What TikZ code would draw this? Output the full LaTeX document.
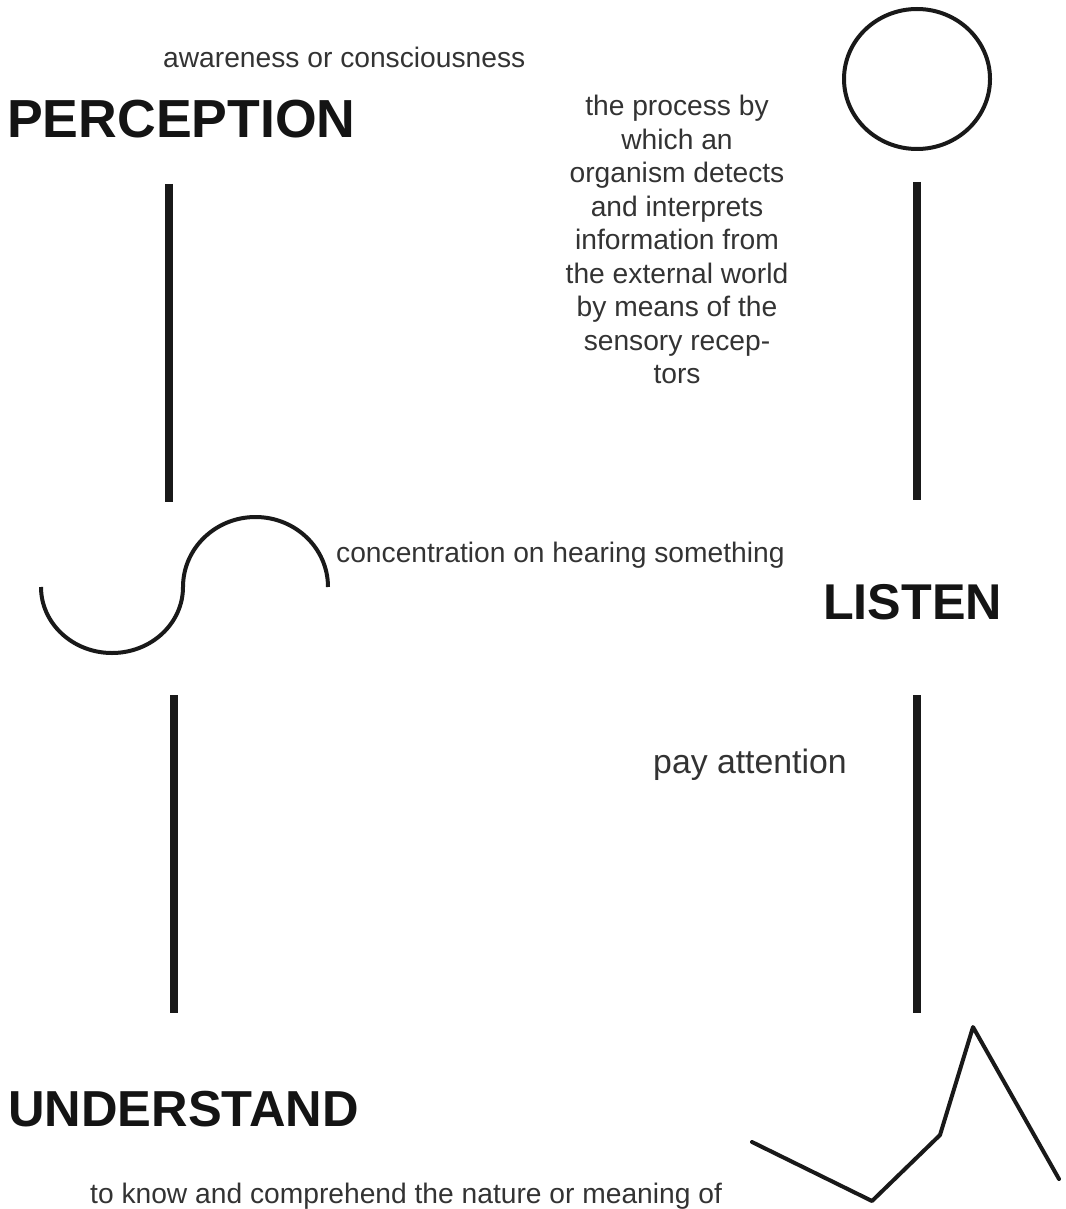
\documentclass[tikz,border=0pt]{standalone}
\usepackage{fontspec}
\setmainfont{Liberation Sans}
\begin{document}
\begin{tikzpicture}[x=1pt,y=-1pt,
  smalltext/.style={inner sep=0pt, text=black!80, font=\fontsize{28.2}{33.5}\selectfont},
  headtext/.style={inner sep=0pt, text=black!92, font=\bfseries\fontsize{#1}{#1}\selectfont},
  thickbar/.style={line width=8pt, black!90},
  thinline/.style={line width=4pt, black!90, line cap=round, line join=round}]
\useasboundingbox (0,0) rectangle (1065,1209);
% texts
\node[smalltext, anchor=base west] (aware) at (163,68) {awareness or consciousness};
\node[headtext=53.6, anchor=base west] (perception) at (7,138) {PERCEPTION};
\node[smalltext, anchor=north, align=center] (process) at (677,95)
  {the process by\\which an\\organism detects\\and interprets\\information from\\the external world\\by means of the\\sensory recep-\\tors};
\node[smalltext, anchor=base west] (concentration) at (336,562) {concentration on hearing something};
\node[headtext=50.3, anchor=base west] (listen) at (823,619) {LISTEN};
\node[smalltext, anchor=base west, font=\fontsize{33.8}{33.8}\selectfont] (pay) at (653,773) {pay attention};
\node[headtext=50.6, anchor=base west] (understand) at (8,1126) {UNDERSTAND};
\node[smalltext, anchor=base west] (know) at (90,1203) {to know and comprehend the nature or meaning of};
% circle
\draw[line width=4pt, black!90] (917,79) ellipse [x radius=73, y radius=70];
% vertical bars
\coordinate (l1a) at (169,184); \coordinate (l1b) at (169,502);
\coordinate (r1a) at (917,182); \coordinate (r1b) at (917,500);
\coordinate (l2a) at (174,695); \coordinate (l2b) at (174,1013);
\coordinate (r2a) at (917,695); \coordinate (r2b) at (917,1013);
\draw[thickbar] (l1a) -- (l1b);
\draw[thickbar] (r1a) -- (r1b);
\draw[thickbar] (l2a) -- (l2b);
\draw[thickbar] (r2a) -- (r2b);
% S curve
\draw[line width=4pt, black!90] (41,587) arc[start angle=180, end angle=360, x radius=71, y radius=-66]
  arc[start angle=180, end angle=0, x radius=72.5, y radius=-70];
% zigzag
\draw[thinline] (752,1142) -- (872,1201) -- (940,1135) -- (973,1027) -- (1059,1179);
\end{tikzpicture}
\end{document}
